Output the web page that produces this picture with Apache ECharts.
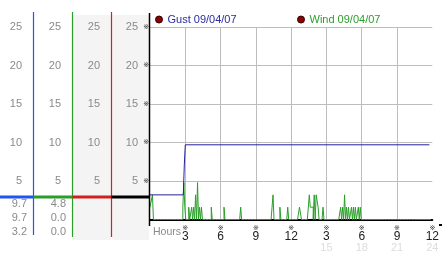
<!DOCTYPE html>
<html><head><meta charset="utf-8">
<script src="https://cdn.jsdelivr.net/npm/echarts@6/dist/echarts.min.js"></script>
<style>html,body{margin:0;padding:0;background:#fff}#c{width:442px;height:253px}</style>
</head><body><div id="c"></div>
<script>
// ---- data ----
const yTicks = [5, 10, 15, 20, 25];
const xTickHours = [3, 6, 9, 12, 15, 18, 21, 24];
const xTickLabels = ['3', '6', '9', '12', '3', '6', '9', '12'];
const xFaintLabels = ['', '', '', '', '15', '18', '21', '24'];
const legendNames = ['Gust 09/04/07', 'Wind 09/04/07'];
// gust: [hour, km/h]
const gustHours = [0, 2.83, 2.92, 3.0, 23.75];
const gustValues = [3.2, 3.2, 7.2, 9.7, 9.7];
// wind: 5-minute samples over 24 h; listed samples are non-zero, all others read as 0
const windSampleCount = 288;
const windSpikes = [
  [0,1.6],[1,1.6],[2,1.6],[3,3.2],
  [34,1.6],[35,4.8],[36,1.6],
  [40,1.6],[43,1.6],[45,1.6],[47,3.2],[49,4.8],[51,1.6],[53,1.6],
  [63,1.6],[76,1.6],[93,1.6],
  [125,1.6],[126,3.2],[133,1.6],[141,1.6],
  [153,1.6],[154,1.6],
  [163,3.2],[164,1.6],[165,1.6],[166,1.6],[168,3.2],[170,3.2],[171,3.2],[172,1.6],[177,1.6],
  [195,1.6],[197,1.6],[199,3.2],[201,1.6],[203,1.6],[206,1.6],[208,1.6],[210,1.6],[213,1.6],[215,1.6]
];
const gustStats = ['9.7', '9.7', '3.2'];
const windStats = ['4.8', '0.0', '0.0'];

// ---- build ----
const gustData = gustHours.map((h, i) => [h, gustValues[i]]);
const windMap = {};
windSpikes.forEach(p => { windMap[p[0]] = p[1]; });
const windData = [];
for (let i = 0; i < windSampleCount; i++) windData.push([i / 12, windMap[i] || 0]);

const FONT = 'Liberation Sans';
const GRAY = '#8a8a8a';
const BLUE = '#1f55f0', GREEN = '#2a9e2a', RED = '#d02020';

function yLab(v) { return yTicks.indexOf(v) >= 0 ? String(v) : ''; }
function makeY(offset, extra) {
  return Object.assign({
    type: 'value', min: 0, max: 25, interval: 5, position: 'left', offset: offset,
    axisLine: { show: false }, axisTick: { show: false }, splitLine: { show: false },
    axisLabel: { color: GRAY, fontSize: 11, fontFamily: FONT, margin: 12, formatter: yLab }
  }, extra || {});
}

const chart = echarts.init(document.getElementById('c'), null, { renderer: 'canvas' });
const statTexts = [];
[gustStats, windStats].forEach((arr, col) => {
  arr.forEach((t, r) => {
    statTexts.push({
      type: 'text', z: 100, x: col === 0 ? 27 : 66, y: 204 + r * 14.2,
      style: { text: t, fill: GRAY, font: '11px "Liberation Sans"', textAlign: 'right', textVerticalAlign: 'middle' }
    });
  });
});

chart.setOption({
  animation: false,
  backgroundColor: '#fff',
  grid: { left: 150, top: 27, width: 289, height: 198, containLabel: false },
  legend: [
    { left: 155, top: 14, padding: 0, icon: 'circle', itemWidth: 7, itemHeight: 7,
      textStyle: { fontSize: 11, fontFamily: FONT },
      data: [{ name: legendNames[0], itemStyle: { color: '#8b0000', borderColor: '#300', borderWidth: 1 }, textStyle: { color: '#2b2ba0' } }] },
    { left: 297, top: 14, padding: 0, icon: 'circle', itemWidth: 7, itemHeight: 7,
      textStyle: { fontSize: 11, fontFamily: FONT },
      data: [{ name: legendNames[1], itemStyle: { color: '#8b0000', borderColor: '#300', borderWidth: 1 }, textStyle: { color: GREEN } }] }
  ],
  xAxis: {
    type: 'value', min: 0, max: 24, interval: 3,
    axisLine: { show: true, lineStyle: { color: '#000', width: 2 } },
    axisTick: { show: false },
    splitLine: { show: true, showMinLine: false, showMaxLine: false, lineStyle: { color: '#bdbdbd', width: 1 } },
    axisLabel: {
      margin: 5, showMinLabel: false, showMaxLabel: true,
      formatter: function (v) {
        const i = xTickHours.indexOf(v);
        if (i < 0) return '';
        let s = '{m|※}\n{v|' + xTickLabels[i] + '}';
        if (xFaintLabels[i]) s += '\n{f|' + xFaintLabels[i] + '}';
        return s;
      },
      rich: {
        m: { fontSize: 7, lineHeight: 7, fontFamily: 'DejaVu Sans', color: '#333' },
        v: { fontSize: 12, lineHeight: 11, fontFamily: FONT, color: '#222' },
        f: { fontSize: 11, lineHeight: 10, fontFamily: FONT, color: '#dcdcdc' }
      }
    }
  },
  yAxis: [
    makeY(0, { splitLine: { show: true, lineStyle: { color: '#bdbdbd', width: 1 } } }),
    makeY(38), makeY(77), makeY(116),
    makeY(0, { axisLabel: { color: '#333', fontSize: 7, fontFamily: 'DejaVu Sans', margin: 1,
      formatter: v => yTicks.indexOf(v) >= 0 ? '※' : '' } })
  ],
  series: [
    { name: legendNames[1], type: 'line', step: 'middle', data: windData, showSymbol: false, symbol: 'none',
      lineStyle: { color: GREEN, width: 1 }, itemStyle: { color: GREEN }, z: 3 },
    { name: legendNames[0], type: 'line', data: gustData, showSymbol: false, symbol: 'none',
      lineStyle: { color: '#22229a', width: 1 }, itemStyle: { color: '#22229a' }, z: 4 }
  ],
  graphic: [
    { type: 'rect', z: -10, shape: { x: 73, y: 15, width: 38, height: 225 }, style: { fill: '#f4f4f4' } },
    { type: 'rect', z: -10, shape: { x: 112, y: 15, width: 37, height: 225 }, style: { fill: '#f4f4f4' } },
    { type: 'line', z: 100, shape: { x1: 33.5, y1: 12, x2: 33.5, y2: 235 }, style: { stroke: BLUE, lineWidth: 1.2 } },
    { type: 'line', z: 100, shape: { x1: 72.5, y1: 12, x2: 72.5, y2: 237 }, style: { stroke: GREEN, lineWidth: 1.2 } },
    { type: 'line', z: 100, shape: { x1: 111.5, y1: 12, x2: 111.5, y2: 237 }, style: { stroke: RED, lineWidth: 1.2 } },
    { type: 'line', z: 100, shape: { x1: 149.5, y1: 13, x2: 149.5, y2: 226 }, style: { stroke: '#000', lineWidth: 1.5 } },
    { type: 'line', z: 101, shape: { x1: 0, y1: 197, x2: 33.5, y2: 197 }, style: { stroke: BLUE, lineWidth: 3 } },
    { type: 'line', z: 101, shape: { x1: 33.5, y1: 197, x2: 72.5, y2: 197 }, style: { stroke: GREEN, lineWidth: 3 } },
    { type: 'line', z: 101, shape: { x1: 72.5, y1: 197, x2: 111.5, y2: 197 }, style: { stroke: RED, lineWidth: 3 } },
    { type: 'line', z: 101, shape: { x1: 111.5, y1: 197, x2: 149.5, y2: 197 }, style: { stroke: '#000', lineWidth: 3 } },
    { type: 'line', z: 100, shape: { x1: 439, y1: 225, x2: 442, y2: 225 }, style: { stroke: '#000', lineWidth: 2 } },
    { type: 'text', z: 100, x: 153, y: 227, style: { text: 'Hours', fill: GRAY, font: '10.5px "Liberation Sans"' } }
  ].concat(statTexts)
});
</script></body></html>
